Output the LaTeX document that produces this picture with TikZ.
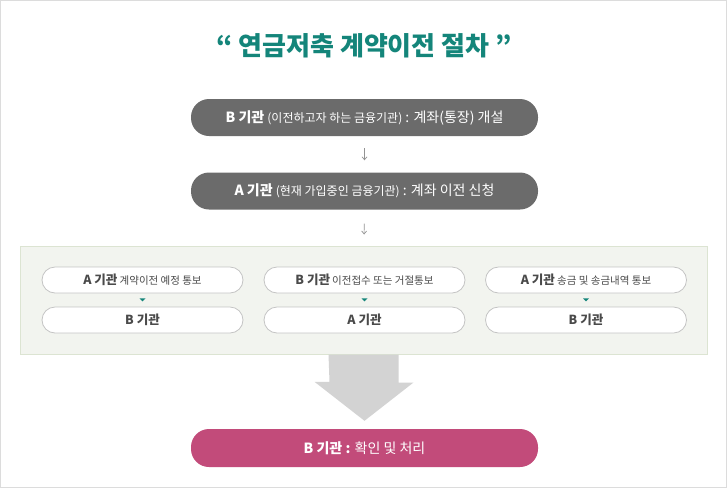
\documentclass[tikz,border=0pt]{standalone}
\usepackage{fontspec}
\setmainfont{Noto Sans CJK KR}
\usetikzlibrary{arrows.meta,positioning}

\definecolor{titleteal}{HTML}{14857A}
\definecolor{boxgray}{HTML}{6B6B6B}
\definecolor{boxpink}{HTML}{C24B7A}
\definecolor{panelgreen}{HTML}{F2F4EF}
\definecolor{panelline}{HTML}{DCE4D2}
\definecolor{pillline}{HTML}{C4C4C4}
\definecolor{pilltext}{HTML}{4A4A4A}
\definecolor{bigarrgray}{HTML}{D3D3D3}
\definecolor{framegray}{HTML}{DCDCDC}

\newcommand{\orgname}[1]{{\fontsize{12.5}{14}\selectfont\bfseries #1}}
\newcommand{\smalltxt}[1]{{\fontsize{10.5}{12}\selectfont #1}}

\tikzset{
  stepbox/.style={fill=#1,text=white,rounded corners=18pt,minimum width=347pt,
    minimum height=37pt,inner sep=0pt,font=\fontsize{14}{16}\selectfont},
  pill/.style={draw=pillline,fill=white,rounded corners=13pt,minimum width=201pt,
    minimum height=26pt,inner sep=0pt,text=pilltext,line width=0.8pt},
  thinarr/.style={-{Straight Barb[length=3pt,width=5pt]},draw=gray!85,line width=0.7pt},
  tri/.style={fill=titleteal},
}

\begin{document}
\begin{tikzpicture}[x=1pt,y=-1pt]
      \useasboundingbox (0,0) rectangle (727,488);
      \draw[framegray,line width=1pt] (0.5,0.5) rectangle (726.5,487.5);

      % title
      \node[text=titleteal,font=\fontsize{26}{30}\selectfont\bfseries] (title) at (364,46) {“ 연금저축 계약이전 절차 ”};

      % steps
      \node[stepbox=boxgray] (open) at (364.5,117.5)
        {\textbf{B 기관} {\fontsize{12}{14}\selectfont(이전하고자 하는 금융기관)} : 계좌(통장) 개설};
      \node[stepbox=boxgray] (apply) at (364.5,191)
        {\textbf{A 기관} {\fontsize{12}{14}\selectfont(현재 가입중인 금융기관)} : 계좌 이전 신청};

      \node[fill=panelgreen,draw=panelline,line width=1pt,minimum width=687pt,
        minimum height=108pt,inner sep=0pt] (panel) at (363.5,300) {};

      \path[thinarr,shorten <=12pt,shorten >=12pt] (open) edge (apply);
      \path[thinarr,shorten <=14pt,shorten >=11pt] (apply) edge (panel);

      % notices
      \node[pill] (notice1) at (142.5,280) {\orgname{A 기관} \smalltxt{계약이전 예정 통보}};
      \node[pill] (notice2) at (364.5,280) {\orgname{B 기관} \smalltxt{이전접수 또는 거절통보}};
      \node[pill] (notice3) at (586,280) {\orgname{A 기관} \smalltxt{송금 및 송금내역 통보}};

      \node[pill] (recv1) at (142.5,320) {\orgname{B 기관}};
      \node[pill] (recv2) at (364.5,320) {\orgname{A 기관}};
      \node[pill] (recv3) at (586,320) {\orgname{B 기관}};

      \foreach \n in {1,2,3}
        \fill[tri] ([xshift=-3pt,yshift=-5pt]notice\n.south) -- ++(6,0) -- ++(-3,3) -- cycle;

      % result
      \node[stepbox=boxpink,minimum height=38pt] (result) at (364.5,448)
        {\textbf{B 기관 :} 확인 및 처리};

      \fill[bigarrgray] ([xshift=-35pt]panel.south) -- ++(70,0) -- ++(0,28) -- ++(15,0)
        -- ([yshift=8pt]result.north) -- ++(-50,-39) -- ++(15,0) -- cycle;

\end{tikzpicture}
\end{document}
